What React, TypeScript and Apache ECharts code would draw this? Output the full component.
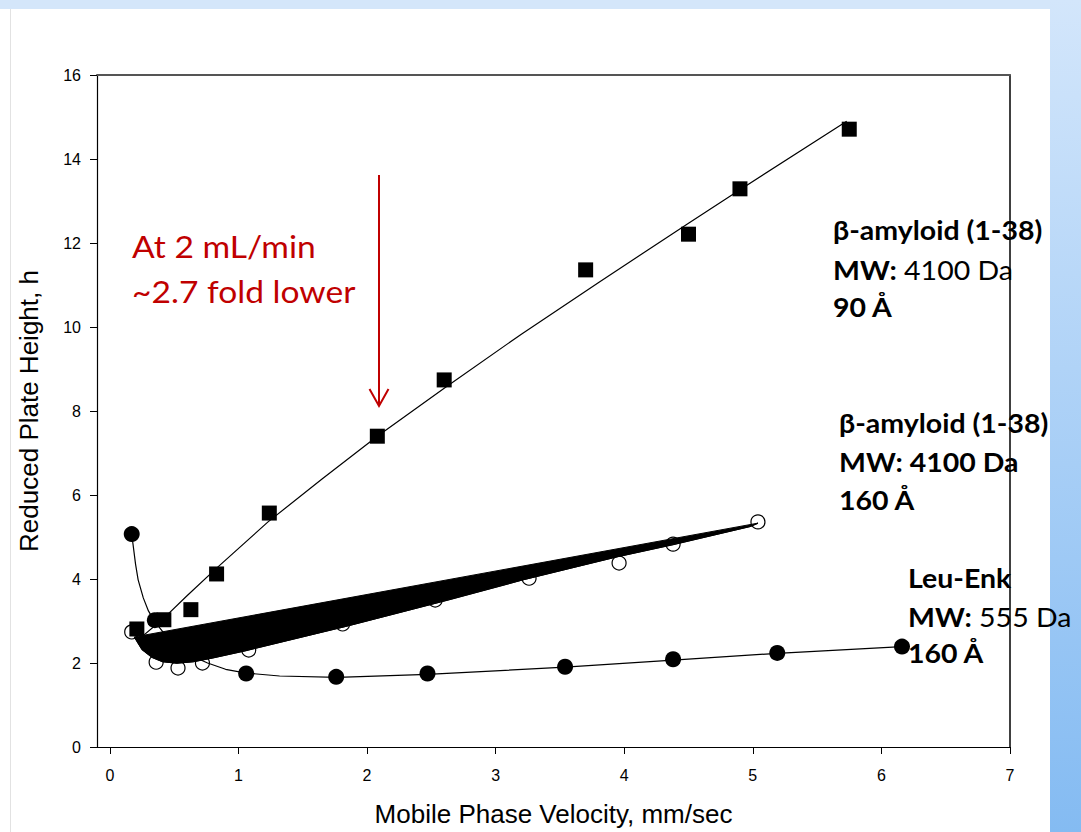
import React, { useEffect, useRef } from "react";
import * as echarts from "echarts";

// ---- data ----
const xTickValues = [0, 1, 2, 3, 4, 5, 6, 7];

// β-amyloid (1-38), 90 Å  (filled squares)
const amyloid90Points: number[][] = [
  [0.21, 2.81], [0.42, 3.03], [0.63, 3.27], [0.83, 4.12], [1.24, 5.57],
  [2.08, 7.4], [2.6, 8.74], [3.7, 11.36], [4.5, 12.21], [4.9, 13.29], [5.75, 14.71],
];
const amyloid90Fit: number[][] = [
  [0.22, 2.55], [0.41, 3.04], [0.6, 3.6], [0.83, 4.26], [1.23, 5.36], [1.65, 6.38],
  [2.08, 7.4], [2.6, 8.54], [3.2, 9.83], [3.81, 11.08], [4.5, 12.47], [4.9, 13.27],
  [5.73, 14.9],
];

// β-amyloid (1-38), 160 Å  (open circles)
const amyloid160Points: number[][] = [
  [0.17, 2.74], [0.36, 2.02], [0.53, 1.88], [0.72, 2.0], [1.08, 2.31], [1.81, 2.93],
  [2.53, 3.5], [3.26, 4.02], [3.96, 4.38], [4.38, 4.83], [5.04, 5.36],
];
const amyloid160Fit: number[][] = [
  [0.19, 2.62], [0.25, 2.32], [0.33, 2.13], [0.41, 2.03], [0.52, 1.995], [0.65, 2.03],
  [0.8, 2.12], [1.05, 2.29], [1.32, 2.49], [1.84, 2.875], [2.36, 3.285], [2.64, 3.51],
  [3.2, 3.97], [3.94, 4.525], [4.38, 4.82], [4.98, 5.25], [5.04, 5.33],
];

// Leu-Enk, 160 Å  (filled circles)
const leuEnkPoints: number[][] = [
  [0.17, 5.07], [0.35, 3.02], [1.06, 1.75], [1.76, 1.67], [2.47, 1.75],
  [3.54, 1.91], [4.38, 2.09], [5.19, 2.24], [6.16, 2.39],
];
const leuEnkFit: number[][] = [
  [0.17, 5.05], [0.18, 4.83], [0.2, 4.35], [0.22, 3.98], [0.26, 3.55], [0.3, 3.24],
  [0.35, 2.98], [0.45, 2.6], [0.6, 2.22], [0.76, 2.0], [0.9, 1.85], [1.06, 1.76],
  [1.32, 1.69], [1.77, 1.66], [2.47, 1.73], [3.54, 1.9], [4.38, 2.07], [5.19, 2.23],
  [6.16, 2.39],
];

const AXIS_FONT = "'Liberation Sans', Arial, sans-serif";
const NOTE_FONT = "Lato, 'Noto Sans', sans-serif";
const RED = "#c00000";

export default function App() {
  const ref = useRef<HTMLDivElement>(null);

  useEffect(() => {
    if (!ref.current) return;
    const chart = echarts.init(ref.current, undefined, { renderer: "svg" });

    const noteSize = 27;
    const noteRich = {
      b: { fontFamily: NOTE_FONT, fontWeight: "bold", fontSize: noteSize, fill: "#000" },
      r: { fontFamily: NOTE_FONT, fontWeight: "normal", fontSize: noteSize, fill: "#000" },
    };
    const noteLine = (x: number, y: number, text: string) => ({
      type: "text",
      x,
      y,
      scaleX: 1.055,
      z: 100,
      silent: true,
      style: {
        text,
        rich: noteRich,
        fontFamily: NOTE_FONT,
        fontSize: noteSize,
        fill: "#000",
        align: "left",
        verticalAlign: "middle",
      },
    });
    const redLine = (x: number, y: number, text: string) => ({
      type: "text",
      x,
      y,
      scaleX: 1.12,
      z: 100,
      silent: true,
      style: { text, fontFamily: NOTE_FONT, fontSize: 30, fill: RED, align: "left", verticalAlign: "middle" },
    });

    const option: any = {
      animation: false,
      backgroundColor: "#ffffff",
      grid: { left: 97, right: 71, top: 75, bottom: 85, show: false },
      xAxis: [
        {
          type: "value",
          min: -0.1,
          max: 7,
          position: "bottom",
          axisLine: { show: true, onZero: false, lineStyle: { color: "#000", width: 1.2 } },
          axisTick: {
            show: true,
            inside: false,
            length: 7,
            customValues: xTickValues,
            lineStyle: { color: "#000", width: 1 },
          },
          axisLabel: {
            customValues: xTickValues,
            margin: 20,
            fontSize: 16,
            color: "#000",
            fontFamily: AXIS_FONT,
          },
          splitLine: { show: false },
          name: "Mobile Phase Velocity, mm/sec",
          nameLocation: "middle",
          nameGap: 54,
          nameTextStyle: { fontSize: 26, color: "#000", fontFamily: AXIS_FONT },
        },
        {
          type: "value",
          min: -0.1,
          max: 7,
          position: "top",
          axisLine: { show: true, onZero: false, lineStyle: { color: "#555", width: 2 } },
          axisTick: { show: false },
          axisLabel: { show: false },
          splitLine: { show: false },
        },
      ],
      yAxis: [
        {
          type: "value",
          min: 0,
          max: 16,
          interval: 2,
          position: "left",
          axisLine: { show: true, onZero: false, lineStyle: { color: "#000", width: 1.2 } },
          axisTick: { show: true, inside: false, length: 7, lineStyle: { color: "#000", width: 1 } },
          axisLabel: { margin: 16, fontSize: 16, color: "#000", fontFamily: AXIS_FONT },
          splitLine: { show: false },
          name: "Reduced Plate Height, h",
          nameLocation: "middle",
          nameGap: 55,
          nameRotate: 90,
          nameTextStyle: { fontSize: 26, color: "#000", fontFamily: AXIS_FONT },
        },
        {
          type: "value",
          min: 0,
          max: 16,
          interval: 2,
          position: "right",
          axisLine: { show: true, onZero: false, lineStyle: { color: "#000", width: 1.5 } },
          axisTick: { show: false },
          axisLabel: { show: false },
          splitLine: { show: false },
        },
      ],
      series: [
        {
          name: "Leu-Enk fit",
          type: "line",
          data: leuEnkFit,
          showSymbol: false,
          symbol: "none",
          z: 1,
          lineStyle: { color: "#000", width: 1.2 },
          silent: true,
        },
        {
          name: "β-amyloid 160 fit",
          type: "line",
          data: amyloid160Fit,
          showSymbol: false,
          symbol: "none",
          z: 1,
          lineStyle: { color: "#000", width: 1.2 },
          silent: true,
        },
        {
          name: "β-amyloid 160",
          type: "scatter",
          data: amyloid160Points,
          symbol: "circle",
          symbolSize: 14,
          z: 2,
          itemStyle: { color: "rgba(255,255,255,0)", borderColor: "#000", borderWidth: 1.2, opacity: 1 },
        },
        {
          name: "β-amyloid 160 wedge",
          type: "custom",
          data: [amyloid160Fit[0]],
          z: 10,
          silent: true,
          renderItem: (_params: any, api: any) => ({
            type: "polygon",
            z2: 10,
            shape: { points: amyloid160Fit.map((p) => api.coord(p)) },
            style: { fill: "#000", stroke: "#000", lineWidth: 1 },
          }),
        },
        {
          name: "β-amyloid 90 fit",
          type: "line",
          data: amyloid90Fit,
          showSymbol: false,
          symbol: "none",
          z: 11,
          lineStyle: { color: "#000", width: 1.2 },
          silent: true,
        },
        {
          name: "β-amyloid 90",
          type: "scatter",
          data: amyloid90Points,
          symbol: "rect",
          symbolSize: 15,
          z: 12,
          itemStyle: { color: "#000", opacity: 1 },
        },
        {
          name: "Leu-Enk",
          type: "scatter",
          data: leuEnkPoints,
          symbol: "circle",
          symbolSize: 16,
          z: 12,
          itemStyle: { color: "#000", opacity: 1 },
        },
      ],
      graphic: [
        // slide frame
        { type: "rect", z: -10, silent: true, shape: { x: 0, y: 0, width: 1081, height: 9 }, style: { fill: "#d4e6fa" } },
        {
          type: "rect",
          z: -10,
          silent: true,
          shape: { x: 1050, y: 0, width: 31, height: 832 },
          style: {
            fill: new echarts.graphic.LinearGradient(0, 0, 0, 1, [
              { offset: 0, color: "#d3e6fb" },
              { offset: 1, color: "#84bbf2" },
            ]),
          },
        },
        { type: "line", z: -10, silent: true, shape: { x1: 10.5, y1: 9, x2: 10.5, y2: 832 }, style: { stroke: "#e2e2e2", lineWidth: 1 } },
        // red annotation
        redLine(132, 247, "At 2 mL/min"),
        redLine(132, 292, "~2.7 fold lower"),
        { type: "line", z: 100, silent: true, shape: { x1: 379, y1: 175, x2: 379, y2: 405 }, style: { stroke: RED, lineWidth: 2 } },
        {
          type: "polyline",
          z: 100,
          silent: true,
          shape: { points: [[369.5, 389], [379, 406], [388.5, 389]] },
          style: { stroke: RED, lineWidth: 2, fill: "none" },
        },
        // series notes
        noteLine(833, 230, "{b|β-amyloid (1-38)}"),
        noteLine(833, 270, "{b|MW:}{r| 4100 Da}"),
        noteLine(833, 307, "{b|90 Å}"),
        noteLine(839, 423, "{b|β-amyloid (1-38)}"),
        noteLine(839, 462, "{b|MW: 4100 Da}"),
        noteLine(839, 500, "{b|160 Å}"),
        noteLine(908, 578, "{b|Leu-Enk}"),
        noteLine(908, 617, "{b|MW:}{r| 555 Da}"),
        noteLine(908, 653, "{b|160 Å}"),
      ],
    };

    chart.setOption(option);
    return () => chart.dispose();
  }, []);

  return (
    <div
      ref={ref}
      style={{ position: "fixed", left: 0, top: 0, width: 1081, height: 832, background: "#fff" }}
    />
  );
}
